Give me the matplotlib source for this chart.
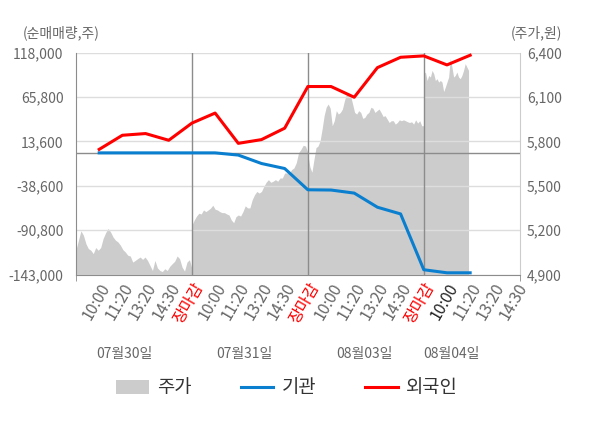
import numpy as np
import matplotlib.pyplot as plt

plt.rcParams['font.family'] = ['Noto Sans CJK KR', 'DejaVu Sans']

days = ['07월30일', '07월31일', '08월03일', '08월04일']
slot_labels = ['10:00', '11:20', '13:20', '14:30', '장마감']

# minute price (원), one list per session
price_d1 = [5068, 5132, 5195, 5166, 5109, 5075, 5064, 5041, 5082, 5064, 5082, 5143,
            5182, 5211, 5188, 5154, 5132, 5120, 5098, 5068, 5052, 5030, 5025, 4984,
            4995, 5007, 5018, 5002, 5018, 4995, 4961, 4927, 4995, 4945, 4927, 4920,
            4939, 4927, 4955, 4973, 4989, 5025, 5007, 4950, 4923, 4984, 5000, 4939]
price_d2 = [5234, 5268, 5295, 5314, 5309, 5336, 5325, 5336, 5348, 5368, 5341, 5336,
            5325, 5318, 5318, 5309, 5302, 5268, 5250, 5291, 5302, 5295, 5325, 5364,
            5350, 5350, 5405, 5439, 5461, 5450, 5461, 5495, 5523, 5541, 5523, 5530,
            5541, 5530, 5552, 5552, 5586, 5586, 5586, 5609, 5620, 5655, 5723, 5745,
            5773, 5768, 5723]
price_d3 = [5711, 5627, 5591, 5677, 5757, 5768, 5802, 5882, 5973, 6030, 6052, 6023,
            5905, 5939, 6007, 5984, 5995, 6018, 6075, 6120, 6127, 6109, 6052, 5995,
            5984, 6007, 5995, 5955, 5961, 5984, 5995, 6030, 6023, 5995, 6007, 6018,
            5995, 5968, 5973, 5950, 5927, 5939, 5939, 5916, 5927, 5945, 5939, 5945,
            5939, 5932, 5927, 5932, 5916, 5945, 5923, 5939, 5905, 5905]
price_d4 = [6257, 6268, 6211, 6245, 6234, 6279, 6257, 6211, 6223, 6200, 6211, 6200,
            6136, 6166, 6200, 6234, 6360, 6302, 6234, 6245, 6268, 6234, 6223, 6245,
            6279, 6325, 6302, 6279]
session_done = [1.0, 1.0, 1.0, 0.386]   # share of each session drawn

# net buying (주) at each time label
foreign = [4100, 20700, 22700, 14800, 35000, 46800, 11200, 15600, 29000,
           78000, 78000, 65400, 100200, 112400, 114000, 103400, 114800]
institution = [0, 0, 0, 0, 0, 0, -2600, -12500, -18400,
               -43400, -43700, -47300, -63900, -71800, -137400, -141000, -141000]

vol_ticks = [-143000, -90800, -38600, 13600, 65800, 118000]
price_ticks = [4900, 5200, 5500, 5800, 6100, 6400]

GRAY = '#666666'
n_slots = len(slot_labels)

fig = plt.figure(figsize=(6, 4.28), dpi=100)
ax = fig.add_axes([76 / 600, 1 - 274.5 / 428, 444 / 600, 222 / 428])
ax2 = ax.twinx()
ax.set_zorder(ax2.get_zorder() + 1)
ax.patch.set_visible(False)
ax2.patch.set_facecolor('#f5f5f5')

# price area
px, py = [], []
for d, p in enumerate([price_d1, price_d2, price_d3, price_d4]):
    start = d * n_slots
    px.extend(np.linspace(start, start + n_slots * session_done[d], len(p)))
    py.extend(p)
area = ax2.fill_between(px, price_ticks[0], py, color='#cccccc', lw=0, label='주가')
ax2.set_ylim(price_ticks[0], price_ticks[-1])
ax2.set_yticks(price_ticks)
ax2.set_yticklabels([f'{v:,}' for v in price_ticks])
ax2.tick_params(axis='y', length=0, pad=5, labelsize=10, labelcolor=GRAY)

# grid, zero line, session separators
for v in vol_ticks:
    ax.axhline(v, color='#dddddd', lw=1, zorder=1)
ax.axhline(0, color='#8c8c8c', lw=1, zorder=2)
for d in range(1, len(days)):
    ax.axvline(d * n_slots, color='#8c8c8c', lw=1, zorder=2)

xs = np.arange(1, len(foreign) + 1)
l_inst, = ax.plot(xs, institution, color='#0a7fcf', lw=2.2, zorder=3, label='기관')
l_for, = ax.plot(xs, foreign, color='#ff0000', lw=2.2, zorder=4, label='외국인')

ax.set_ylim(vol_ticks[0], vol_ticks[-1])
ax.set_yticks(vol_ticks)
ax.set_yticklabels([f'{v:,}' for v in vol_ticks])
ax.tick_params(axis='y', length=0, pad=9, labelsize=10, labelcolor=GRAY)

xlabels = slot_labels * 3 + slot_labels[:4]
xmax = len(xlabels) + 0.15
ax.set_xlim(0, xmax)
ax.set_xticks(np.arange(1, len(xlabels) + 1))
ax.set_xticklabels(xlabels, rotation=60, ha='right', rotation_mode='anchor')
ax.tick_params(axis='x', length=0, pad=4, labelsize=11.5, labelcolor=GRAY)
ax.set_xticks([0, 5, 10, 15, xmax], minor=True)
ax.tick_params(axis='x', which='minor', length=4, color='#8c8c8c')
for i, t in enumerate(ax.get_xticklabels()):
    if xlabels[i] == '장마감':
        t.set_color('red')
    elif i == 15:
        t.set_color('#222222')

for s in ['top', 'right']:
    ax.spines[s].set_visible(False)
for s in ['left', 'bottom']:
    ax.spines[s].set_color('#8c8c8c')
for s in ['top', 'left', 'bottom']:
    ax2.spines[s].set_visible(False)
ax2.spines['right'].set_color('#cccccc')

day_pos = [2.1, 7.28, 12.46, 16.2]
for x, d in zip(day_pos, days):
    ax.text(x, -0.36, d, transform=ax.get_xaxis_transform(), ha='center', va='center',
            fontsize=10, color=GRAY)

fig.text(23 / 600, 1 - 33 / 428, '(순매매량,주)', ha='left', va='center', fontsize=10, color=GRAY)
fig.text(562 / 600, 1 - 33 / 428, '(주가,원)', ha='right', va='center', fontsize=10, color=GRAY)

fig.legend([area, l_inst, l_for], ['주가', '기관', '외국인'], loc='center',
           bbox_to_anchor=(287 / 600, 1 - 388 / 428), ncol=3, frameon=False,
           fontsize=13.5, labelcolor='#333333', handlelength=1.75, handletextpad=0.45,
           columnspacing=2.6)

fig.savefig('out.png', dpi=100)
